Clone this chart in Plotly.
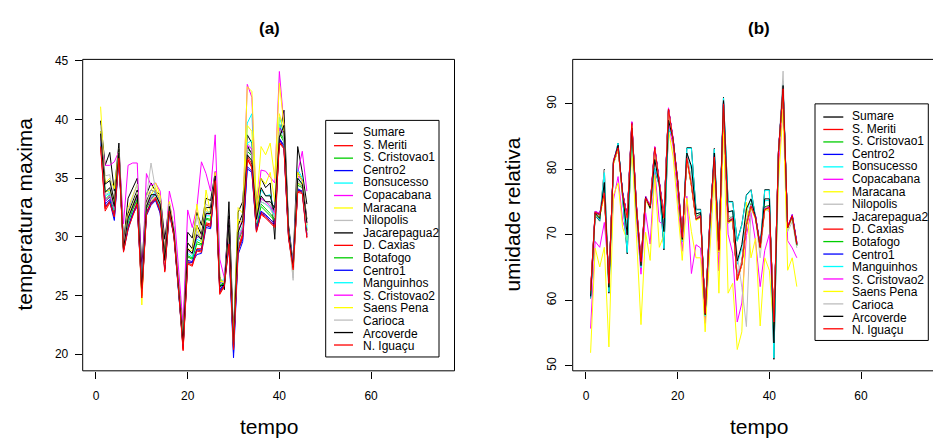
import plotly.graph_objects as go

# ---------------- data ----------------
tempo = list(range(1, 47))

estacoes = ["Sumare", "S. Meriti", "S. Cristovao1", "Centro2", "Bonsucesso",
            "Copacabana", "Maracana", "Nilopolis", "Jacarepagua2", "D. Caxias",
            "Botafogo", "Centro1", "Manguinhos", "S. Cristovao2", "Saens Pena",
            "Carioca", "Arcoverde", "N. Iguaçu"]

cores = ["#000000", "#FF0000", "#00CD00", "#0000FF", "#00FFFF", "#FF00FF", "#FFFF00", "#BEBEBE",
         "#000000", "#FF0000", "#00CD00", "#0000FF", "#00FFFF", "#FF00FF", "#FFFF00", "#BEBEBE",
         "#000000", "#FF0000"]

x_ticks = [0, 20, 40, 60]
y_ticks_a = [20, 25, 30, 35, 40, 45]
y_ticks_b = [50, 60, 70, 80, 90]

# (a) temperatura maxima
tmax_sumare = [39.9, 36.1, 37.2, 33.9, 38.0, 29.4, 33.3, 34.2, 35.0, 27.4, 33.6, 34.6, 33.9, 33.6, 29.8, 32.8, 30.4, 26.0, 22.1, 30.4, 29.9, 32.1, 31.0, 33.3, 33.1, 35.5, 26.6, 25.5, 33.0, 21.5, 32.1, 33.0, 38.7, 38.0, 33.0, 35.0, 34.2, 34.6, 29.8, 38.7, 40.8, 31.0, 27.8, 37.7, 35.5, 32.8]
tmax_smeriti = [38.0, 32.5, 33.1, 32.0, 36.9, 28.9, 30.9, 32.0, 33.0, 25.1, 32.1, 33.0, 33.4, 32.4, 27.3, 32.4, 30.2, 25.7, 20.5, 27.9, 27.8, 29.0, 29.0, 31.2, 31.1, 35.0, 25.4, 26.0, 29.7, 20.6, 29.1, 30.3, 36.9, 36.2, 30.7, 32.1, 31.9, 31.5, 31.1, 38.3, 37.8, 30.1, 27.4, 34.0, 33.9, 30.2]
tmax_scristovao1 = [38.6, 33.2, 33.6, 32.4, 37.0, 29.1, 31.3, 32.4, 33.3, 25.5, 32.5, 33.3, 33.7, 32.7, 27.5, 32.6, 30.4, 25.9, 20.8, 28.4, 28.2, 29.6, 29.4, 31.6, 31.5, 35.1, 25.8, 26.2, 30.2, 20.7, 29.8, 30.8, 37.6, 37.2, 31.0, 32.8, 32.4, 32.0, 31.5, 39.0, 38.3, 30.4, 27.5, 34.6, 34.3, 30.6]
tmax_centro2 = [38.3, 32.6, 33.0, 31.4, 36.6, 28.8, 30.6, 31.9, 32.6, 25.2, 31.8, 32.7, 33.1, 32.0, 27.2, 32.0, 30.1, 25.6, 20.6, 27.8, 27.8, 28.5, 28.6, 30.8, 30.7, 35.0, 25.3, 25.9, 29.2, 19.7, 28.5, 29.6, 35.8, 35.5, 30.5, 32.0, 31.8, 31.3, 31.0, 38.3, 37.6, 30.0, 27.3, 34.0, 33.8, 30.0]
tmax_bonsucesso = [38.5, 34.0, 33.8, 32.5, 37.0, 29.0, 31.5, 32.8, 33.8, 25.5, 32.8, 33.5, 33.8, 32.8, 27.8, 32.8, 30.8, 26.2, 21.0, 29.0, 28.5, 30.0, 29.8, 32.0, 32.2, 35.3, 26.0, 26.5, 30.8, 20.8, 30.0, 31.0, 39.7, 40.5, 31.5, 34.0, 33.5, 33.6, 32.0, 40.2, 39.0, 30.8, 27.5, 35.8, 35.0, 31.0]
tmax_copacabana = [38.7, 36.1, 36.1, 36.4, 37.3, 31.1, 36.1, 36.3, 36.3, 26.0, 35.4, 34.4, 34.6, 33.9, 28.5, 33.9, 32.2, 27.2, 22.5, 32.3, 30.8, 32.5, 36.4, 35.4, 33.9, 38.7, 28.1, 26.5, 31.5, 21.0, 30.5, 31.5, 43.0, 41.9, 32.0, 35.7, 35.6, 35.1, 34.6, 44.1, 39.5, 30.5, 27.5, 35.5, 37.3, 33.9]
tmax_maracana = [41.1, 34.6, 35.0, 34.1, 37.5, 29.0, 32.5, 33.5, 34.5, 24.2, 33.5, 34.0, 34.6, 33.5, 28.5, 33.0, 30.5, 26.0, 21.5, 29.5, 29.0, 32.8, 30.0, 34.0, 32.0, 35.0, 26.5, 26.0, 31.0, 21.0, 32.5, 32.0, 42.8, 42.4, 32.5, 37.7, 37.0, 38.0, 35.0, 43.1, 39.5, 30.5, 27.0, 34.5, 34.5, 30.5]
tmax_nilopolis = [39.5, 35.2, 35.3, 33.0, 37.5, 29.2, 32.2, 33.3, 34.5, 25.5, 33.3, 36.3, 34.0, 33.2, 28.0, 33.0, 30.6, 26.0, 21.2, 29.5, 29.0, 31.8, 30.2, 32.8, 32.5, 35.3, 26.3, 26.0, 31.5, 20.6, 31.0, 31.6, 38.0, 37.5, 31.8, 33.2, 33.0, 32.8, 31.7, 39.0, 39.2, 30.5, 26.3, 35.0, 34.5, 31.5]
tmax_jacarepagua2 = [39.0, 34.5, 34.8, 33.0, 37.5, 29.2, 32.0, 33.0, 34.0, 26.0, 33.0, 34.0, 33.8, 33.0, 28.5, 32.8, 30.5, 26.0, 21.5, 29.5, 29.0, 31.0, 30.2, 32.5, 32.5, 35.3, 26.2, 26.0, 31.8, 21.0, 31.0, 32.0, 37.8, 37.0, 32.0, 34.2, 33.5, 33.5, 32.0, 38.8, 39.0, 30.8, 27.5, 35.5, 34.8, 31.5]
tmax_dcaxias = [37.9, 32.4, 33.0, 31.8, 36.8, 28.8, 30.8, 31.9, 32.9, 25.0, 32.0, 32.9, 33.3, 32.3, 27.1, 32.3, 30.1, 25.6, 20.4, 27.8, 27.6, 28.9, 28.8, 31.1, 31.0, 34.9, 25.2, 25.9, 29.5, 20.5, 28.9, 30.1, 36.7, 36.0, 30.5, 32.0, 31.7, 31.3, 30.9, 38.1, 37.6, 30.0, 27.3, 33.9, 33.8, 30.0]
tmax_botafogo = [38.5, 33.0, 33.4, 32.2, 37.0, 29.0, 31.2, 32.3, 33.2, 25.4, 32.4, 33.2, 33.6, 32.6, 27.4, 32.5, 30.3, 25.8, 20.7, 28.3, 28.1, 29.4, 29.3, 31.5, 31.4, 35.0, 25.7, 26.1, 30.0, 20.6, 29.6, 30.6, 37.3, 36.9, 30.9, 32.6, 32.2, 31.8, 31.4, 38.8, 38.1, 30.3, 27.4, 34.4, 34.2, 30.5]
tmax_centro1 = [38.4, 32.8, 33.2, 31.6, 36.8, 28.9, 30.8, 32.0, 32.8, 25.3, 32.0, 32.9, 33.2, 32.1, 27.3, 32.2, 30.2, 25.7, 20.7, 28.0, 27.9, 28.9, 28.9, 31.0, 30.8, 35.1, 25.5, 26.0, 29.6, 20.1, 28.9, 29.8, 36.0, 35.6, 30.6, 32.2, 31.9, 31.5, 31.1, 38.4, 37.8, 30.1, 27.3, 34.1, 33.9, 30.2]
tmax_manguinhos = [38.2, 33.5, 33.7, 32.3, 37.1, 29.2, 31.4, 32.6, 33.5, 25.6, 32.6, 33.4, 33.6, 32.6, 27.6, 32.7, 30.6, 26.0, 20.9, 28.6, 28.3, 29.8, 29.6, 31.8, 31.8, 35.2, 25.9, 26.3, 30.5, 20.8, 29.9, 30.9, 38.0, 38.2, 31.2, 33.0, 32.8, 32.5, 31.8, 39.6, 38.6, 30.6, 27.6, 35.0, 34.6, 30.8]
tmax_scristovao2 = [38.6, 33.0, 33.5, 32.5, 37.0, 29.3, 31.6, 32.6, 33.5, 25.7, 32.6, 33.3, 33.7, 32.8, 27.7, 32.8, 30.8, 26.2, 21.0, 28.9, 28.6, 30.0, 30.0, 32.0, 31.9, 35.6, 26.0, 26.3, 30.4, 20.9, 29.8, 30.7, 37.8, 37.5, 31.3, 33.3, 33.0, 32.6, 32.0, 39.3, 38.8, 30.6, 27.6, 35.2, 34.8, 31.2]
tmax_saenspena = [39.0, 33.8, 34.0, 32.8, 37.2, 29.0, 31.8, 32.8, 33.8, 25.0, 32.8, 33.6, 34.2, 33.0, 27.8, 33.0, 30.6, 26.0, 21.2, 29.0, 28.8, 31.0, 29.5, 32.5, 31.8, 35.5, 26.2, 26.2, 30.6, 21.0, 31.5, 31.2, 39.5, 39.0, 31.8, 35.0, 34.5, 35.5, 33.0, 40.5, 39.0, 30.5, 27.0, 35.5, 34.8, 31.0]
tmax_carioca = [38.8, 33.6, 33.8, 32.6, 37.2, 29.1, 31.6, 32.8, 33.8, 25.6, 32.8, 34.0, 33.8, 32.9, 27.8, 32.8, 30.5, 26.0, 21.0, 28.8, 28.5, 30.5, 29.7, 32.2, 32.0, 35.2, 26.0, 26.2, 30.8, 20.7, 30.0, 30.9, 37.5, 37.0, 31.3, 33.0, 32.8, 32.4, 31.6, 39.0, 38.5, 30.4, 26.5, 34.8, 34.2, 31.0]
tmax_arcoverde = [38.8, 33.8, 34.2, 32.6, 37.2, 29.0, 31.6, 32.6, 33.6, 25.6, 32.6, 33.6, 33.6, 32.8, 28.0, 32.6, 30.4, 25.8, 21.0, 29.0, 28.6, 30.2, 29.8, 32.0, 32.0, 35.2, 25.8, 25.9, 31.0, 20.8, 30.4, 31.4, 37.0, 36.5, 31.5, 33.5, 33.0, 33.0, 32.5, 38.5, 39.5, 30.5, 27.4, 35.0, 34.5, 31.2]
tmax_niguacu = [37.7, 32.2, 32.9, 31.7, 36.7, 28.7, 30.7, 31.8, 32.8, 24.8, 31.9, 32.8, 33.2, 32.2, 27.0, 32.2, 30.0, 25.5, 20.3, 27.7, 27.5, 28.8, 28.7, 31.0, 30.9, 34.8, 25.1, 25.8, 29.4, 20.4, 28.8, 30.0, 36.6, 35.9, 30.4, 31.9, 31.6, 31.2, 30.8, 38.0, 37.5, 29.9, 27.2, 33.8, 33.7, 29.9]

# (b) umidade relativa
umid_sumare = [60.3, 73.0, 72.1, 80.0, 61.1, 81.0, 84.0, 76.0, 67.1, 85.5, 73.5, 64.9, 75.8, 74.0, 80.0, 77.5, 67.7, 86.2, 84.8, 77.8, 69.0, 83.3, 83.3, 73.9, 73.9, 57.5, 71.0, 83.2, 68.0, 91.0, 75.1, 75.1, 69.1, 71.6, 76.1, 76.9, 72.6, 68.1, 76.9, 76.9, 51.0, 82.5, 93.0, 71.1, 72.9, 68.4]
umid_smeriti = [61.2, 73.2, 73.0, 76.8, 62.8, 81.0, 83.0, 76.3, 72.8, 86.8, 74.2, 65.6, 75.4, 74.2, 83.0, 77.5, 72.8, 89.0, 84.6, 78.0, 69.4, 81.9, 77.9, 72.6, 73.0, 58.2, 71.4, 81.7, 67.8, 90.2, 72.2, 72.6, 63.4, 65.8, 71.8, 74.6, 72.8, 68.3, 74.1, 74.4, 56.9, 82.9, 92.1, 71.3, 73.0, 68.8]
umid_scristovao1 = [61.0, 73.5, 72.8, 76.9, 62.5, 81.4, 83.6, 76.0, 72.4, 86.6, 74.0, 65.7, 75.8, 74.1, 82.8, 77.3, 72.4, 88.8, 84.3, 77.9, 69.2, 82.0, 78.2, 72.8, 73.2, 58.4, 71.2, 81.5, 67.3, 89.8, 72.4, 72.8, 63.6, 66.0, 72.0, 74.8, 72.4, 68.0, 74.3, 74.5, 56.5, 82.4, 92.0, 71.0, 72.6, 68.3]
umid_centro2 = [60.5, 73.0, 73.3, 76.6, 62.9, 80.9, 83.1, 76.5, 72.7, 86.9, 74.6, 65.4, 75.2, 74.6, 83.4, 77.9, 72.7, 89.1, 84.7, 78.4, 69.8, 81.5, 77.5, 72.3, 72.7, 58.3, 71.8, 82.1, 67.9, 90.1, 71.8, 72.3, 63.3, 65.4, 71.4, 74.2, 72.9, 68.4, 74.2, 74.0, 56.4, 82.9, 92.6, 71.2, 73.1, 68.9]
umid_bonsucesso = [60.9, 73.1, 72.6, 77.5, 62.4, 81.1, 83.8, 76.2, 71.5, 86.4, 73.8, 65.2, 75.7, 74.0, 82.0, 77.4, 71.8, 88.0, 84.6, 78.0, 69.3, 82.6, 80.0, 73.2, 73.4, 58.0, 71.3, 82.5, 67.9, 90.4, 73.5, 73.6, 65.5, 68.0, 73.5, 75.5, 72.6, 68.2, 75.2, 75.3, 54.0, 82.6, 92.6, 71.1, 72.8, 68.5]
umid_copacabana = [55.7, 69.0, 68.1, 71.9, 64.0, 75.4, 78.9, 72.1, 70.0, 85.0, 72.5, 64.0, 73.4, 68.6, 80.0, 72.0, 71.5, 87.0, 83.5, 76.0, 67.5, 75.9, 64.1, 68.5, 68.0, 56.5, 69.5, 80.5, 64.5, 88.0, 70.1, 67.2, 56.7, 59.6, 69.9, 73.4, 69.0, 62.1, 67.6, 70.1, 55.5, 80.0, 90.0, 69.1, 68.0, 66.5]
umid_maracana = [52.0, 68.0, 65.1, 68.1, 52.9, 76.1, 77.9, 71.1, 69.1, 83.5, 70.0, 56.3, 70.4, 66.1, 79.2, 68.1, 70.0, 86.0, 82.0, 74.0, 66.1, 75.6, 70.5, 66.5, 66.5, 55.2, 68.0, 79.0, 61.1, 86.2, 61.1, 62.6, 52.5, 55.2, 75.0, 66.5, 69.5, 56.1, 66.5, 64.6, 55.0, 78.0, 89.2, 64.6, 66.5, 62.1]
umid_nilopolis = [61.0, 73.0, 72.5, 79.9, 62.0, 81.0, 83.5, 76.0, 72.5, 86.5, 74.0, 65.5, 75.5, 74.0, 82.5, 77.5, 72.5, 88.5, 84.5, 78.0, 69.5, 82.5, 78.0, 72.5, 73.0, 58.0, 70.5, 81.5, 67.5, 90.0, 73.0, 72.5, 67.0, 62.0, 56.0, 74.0, 72.5, 66.5, 74.0, 73.5, 56.0, 82.5, 95.0, 70.5, 72.0, 68.0]
umid_jacarepagua2 = [61.3, 73.6, 73.2, 76.2, 62.7, 81.3, 83.4, 76.2, 72.9, 87.2, 74.3, 66.0, 75.9, 74.3, 83.2, 77.6, 72.9, 89.3, 84.4, 78.1, 69.7, 81.8, 77.8, 72.5, 73.1, 58.1, 71.7, 81.8, 67.7, 90.1, 72.1, 72.4, 63.2, 65.7, 71.7, 74.5, 72.7, 68.2, 74.0, 74.3, 56.6, 82.8, 92.4, 71.2, 72.8, 68.7]
umid_dcaxias = [61.4, 73.5, 73.0, 76.5, 62.5, 81.3, 83.4, 76.0, 72.5, 87.1, 74.5, 66.0, 75.7, 74.3, 83.4, 77.8, 72.5, 89.3, 84.4, 78.3, 69.7, 81.6, 77.6, 72.3, 72.8, 57.9, 71.7, 82.0, 67.5, 90.1, 71.9, 72.4, 63.0, 65.5, 71.5, 74.3, 72.5, 68.0, 73.8, 74.1, 56.5, 82.8, 92.4, 71.0, 72.8, 68.5]
umid_botafogo = [61.1, 73.3, 72.9, 76.7, 62.6, 81.2, 83.5, 76.2, 72.6, 86.9, 74.2, 65.8, 75.6, 74.2, 83.1, 77.6, 72.7, 89.1, 84.5, 78.1, 69.5, 81.8, 77.9, 72.6, 73.0, 58.2, 71.5, 81.8, 67.6, 90.0, 72.1, 72.6, 63.3, 65.8, 71.7, 74.5, 72.6, 68.2, 74.0, 74.3, 56.6, 82.7, 92.3, 71.1, 72.9, 68.6]
umid_centro1 = [60.7, 73.2, 73.2, 76.3, 62.8, 81.1, 83.2, 76.4, 72.8, 87.0, 74.5, 65.6, 75.4, 74.5, 83.3, 77.8, 72.8, 89.2, 84.6, 78.3, 69.7, 81.6, 77.6, 72.4, 72.8, 58.1, 71.7, 82.0, 67.8, 90.2, 71.9, 72.4, 63.2, 65.5, 71.5, 74.3, 72.8, 68.3, 74.0, 74.1, 56.5, 82.8, 92.5, 71.1, 73.0, 68.7]
umid_manguinhos = [60.4, 73.1, 72.2, 79.5, 61.3, 81.0, 84.0, 76.0, 67.3, 85.7, 73.6, 65.0, 75.8, 74.0, 80.2, 77.5, 67.9, 86.3, 84.8, 77.8, 69.0, 83.2, 83.2, 73.8, 73.8, 57.6, 71.0, 83.1, 68.0, 90.9, 75.0, 75.0, 69.0, 71.5, 76.0, 76.8, 72.6, 68.1, 76.8, 76.8, 51.2, 82.5, 92.9, 71.1, 72.9, 68.4]
umid_scristovao2 = [61.6, 73.6, 73.3, 76.6, 62.9, 81.4, 83.6, 76.3, 72.9, 87.3, 74.6, 66.1, 75.9, 74.5, 83.5, 77.9, 72.9, 89.4, 84.7, 78.4, 69.9, 81.9, 77.9, 72.6, 73.1, 58.3, 71.8, 82.1, 67.8, 90.3, 72.2, 72.7, 63.4, 65.8, 71.8, 74.6, 72.8, 68.3, 74.1, 74.4, 56.8, 82.9, 92.5, 71.3, 73.1, 68.8]
umid_saenspena = [61.0, 73.0, 72.7, 76.0, 62.3, 80.8, 83.0, 75.8, 72.3, 86.6, 74.0, 65.5, 75.3, 74.0, 82.9, 77.3, 72.4, 88.9, 84.2, 77.8, 69.2, 81.4, 77.4, 72.2, 72.6, 57.8, 71.4, 81.6, 67.4, 89.8, 71.8, 72.2, 63.0, 65.4, 71.4, 74.2, 72.4, 67.9, 73.7, 74.0, 56.3, 82.5, 92.0, 70.9, 72.7, 68.4]
umid_carioca = [61.2, 73.2, 72.9, 77.0, 62.5, 81.1, 83.3, 76.1, 72.2, 86.8, 74.2, 65.7, 75.5, 74.2, 83.0, 77.5, 72.5, 89.0, 84.4, 78.0, 69.5, 82.0, 78.5, 72.6, 73.0, 58.1, 71.5, 81.8, 67.6, 90.1, 72.3, 72.6, 64.0, 66.0, 72.0, 74.5, 72.6, 68.1, 74.1, 74.2, 56.6, 82.6, 93.5, 71.0, 72.8, 68.5]
umid_arcoverde = [60.6, 73.3, 72.5, 78.0, 62.0, 81.1, 83.7, 76.2, 70.0, 86.3, 74.0, 65.3, 75.7, 74.1, 81.5, 77.6, 70.5, 87.5, 84.6, 78.0, 69.3, 82.5, 80.5, 73.2, 73.4, 57.8, 71.3, 82.5, 67.8, 90.5, 73.5, 73.7, 66.0, 68.5, 74.0, 75.5, 72.6, 68.1, 75.5, 75.5, 53.5, 82.6, 92.8, 71.1, 72.9, 68.5]
umid_niguacu = [61.5, 73.4, 73.1, 76.4, 62.6, 81.2, 83.3, 76.1, 72.6, 87.0, 74.4, 65.9, 75.6, 74.4, 83.3, 77.7, 72.6, 89.2, 84.5, 78.2, 69.6, 81.7, 77.7, 72.4, 72.9, 58.0, 71.6, 81.9, 67.6, 90.0, 72.0, 72.5, 63.1, 65.6, 71.6, 74.4, 72.6, 68.1, 73.9, 74.2, 56.7, 82.7, 92.3, 71.1, 72.9, 68.6]

tmax_series = [tmax_sumare, tmax_smeriti, tmax_scristovao1, tmax_centro2, tmax_bonsucesso,
               tmax_copacabana, tmax_maracana, tmax_nilopolis, tmax_jacarepagua2, tmax_dcaxias,
               tmax_botafogo, tmax_centro1, tmax_manguinhos, tmax_scristovao2, tmax_saenspena,
               tmax_carioca, tmax_arcoverde, tmax_niguacu]
umid_series = [umid_sumare, umid_smeriti, umid_scristovao1, umid_centro2, umid_bonsucesso,
               umid_copacabana, umid_maracana, umid_nilopolis, umid_jacarepagua2, umid_dcaxias,
               umid_botafogo, umid_centro1, umid_manguinhos, umid_scristovao2, umid_saenspena,
               umid_carioca, umid_arcoverde, umid_niguacu]

# ---------------- figure ----------------
W, H = 933, 442
FONT = "Liberation Sans, Arial, Helvetica, sans-serif"

def px_x(p):
    return p / W

def px_y(p):
    return 1 - p / H

fig = go.Figure()
for nome, cor, vals in zip(estacoes, cores, tmax_series):
    fig.add_trace(go.Scatter(x=tempo, y=vals, mode="lines", name=nome,
                             line=dict(color=cor, width=1), xaxis="x", yaxis="y",
                             showlegend=False, hoverinfo="skip"))
for nome, cor, vals in zip(estacoes, cores, umid_series):
    fig.add_trace(go.Scatter(x=tempo, y=vals, mode="lines", name=nome,
                             line=dict(color=cor, width=1), xaxis="x2", yaxis="y2",
                             showlegend=False, hoverinfo="skip"))

ydom = [px_y(370), px_y(55)]
axis_common = dict(showgrid=False, zeroline=False, showline=False, ticks="outside",
                   ticklen=7, tickwidth=1, tickcolor="#000000",
                   tickfont=dict(family=FONT, size=12, color="#000000"))

fig.update_layout(
    width=W, height=H, margin=dict(l=0, r=0, t=0, b=0),
    paper_bgcolor="white", plot_bgcolor="white",
    font=dict(family=FONT, color="#000000"),
    xaxis=dict(domain=[px_x(82.7), px_x(454.5)], range=[-2.9, 78.2], tickvals=x_ticks,
               anchor="y", ticklabelstandoff=7, **axis_common),
    yaxis=dict(domain=ydom, range=[18.59, 45.13], tickvals=y_ticks_a, anchor="x",
               ticklabelstandoff=4, **axis_common),
    xaxis2=dict(domain=[px_x(572.7), 1.0], range=[-2.9, 75.71], tickvals=x_ticks,
                anchor="y2", ticklabelstandoff=7, **axis_common),
    yaxis2=dict(domain=ydom, range=[49.25, 96.79], tickvals=y_ticks_b, anchor="x2",
                tickangle=-90, ticklabelstandoff=4, **axis_common),
)

shapes = []
# frames
shapes.append(dict(type="rect", xref="x domain", yref="y domain", x0=0, x1=1, y0=0, y1=1,
                   line=dict(color="#000000", width=1)))
for (x0, y0, x1, y1) in [(0, 0, 0, 1), (0, 1, 1, 1), (0, 0, 1, 0)]:
    shapes.append(dict(type="line", xref="x2 domain", yref="y2 domain", x0=x0, y0=y0, x1=x1, y1=y1,
                       line=dict(color="#000000", width=1)))

annotations = []
ROW_STEP = 12.6
# legends (drawn as in R's legend()): one multi-line text block per legend
def add_legend(box, first_row, line_x, text_x):
    bx0, by0, bx1, by1 = box
    shapes.append(dict(type="rect", xref="paper", yref="paper",
                       x0=px_x(bx0), x1=px_x(bx1), y0=px_y(by1), y1=px_y(by0),
                       line=dict(color="#000000", width=1), fillcolor="white", layer="above"))
    for k, cor in enumerate(cores):
        yy = first_row + k * ROW_STEP
        shapes.append(dict(type="line", xref="paper", yref="paper",
                           x0=px_x(line_x[0]), x1=px_x(line_x[1]), y0=px_y(yy), y1=px_y(yy),
                           line=dict(color=cor, width=1.3), layer="above"))
    texto = "<br>".join('<span style="font-size:12px">%s</span>' % n for n in estacoes)
    mid = first_row + (len(estacoes) - 1) * ROW_STEP / 2
    annotations.append(dict(text=texto, xref="paper", yref="paper", x=px_x(text_x), y=px_y(mid),
                            xanchor="left", yanchor="middle", align="left", showarrow=False,
                            font=dict(family=FONT, size=ROW_STEP / 1.3, color="#000000")))

add_legend((325.7, 116.7, 439.0, 356.0), 129.7, (334, 353), 360.5)
add_legend((815.0, 100.0, 928.3, 339.3), 113.3, (823.3, 843.3), 850.0)

# titles
annotations += [
    dict(text="<b>(a)</b>", xref="paper", yref="paper", x=px_x(269), y=px_y(24),
         xanchor="center", yanchor="middle", showarrow=False, font=dict(family=FONT, size=17)),
    dict(text="<b>(b)</b>", xref="paper", yref="paper", x=px_x(759), y=px_y(24),
         xanchor="center", yanchor="middle", showarrow=False, font=dict(family=FONT, size=17)),
    dict(text="tempo", xref="paper", yref="paper", x=px_x(269), y=px_y(426),
         xanchor="center", yanchor="middle", showarrow=False, font=dict(family=FONT, size=21)),
    dict(text="tempo", xref="paper", yref="paper", x=px_x(759), y=px_y(426),
         xanchor="center", yanchor="middle", showarrow=False, font=dict(family=FONT, size=21)),
    dict(text="temperatura maxima", xref="paper", yref="paper", x=px_x(25), y=px_y(212),
         xanchor="center", yanchor="middle", textangle=-90, showarrow=False,
         font=dict(family=FONT, size=21)),
    dict(text="umidade relativa", xref="paper", yref="paper", x=px_x(513), y=px_y(212),
         xanchor="center", yanchor="middle", textangle=-90, showarrow=False,
         font=dict(family=FONT, size=21)),
]

fig.update_layout(shapes=shapes, annotations=annotations)
fig.write_html("out.html")
